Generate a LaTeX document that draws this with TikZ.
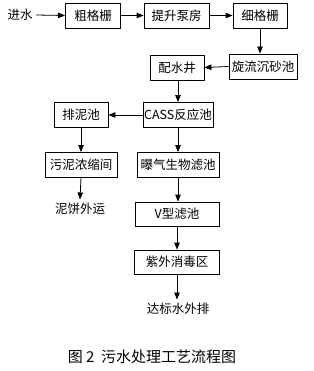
\documentclass[tikz,border=0pt]{standalone}
\usepackage{fontspec}
\newfontfamily\cjk{Noto Sans CJK SC}
\usepackage{tikz}
\usetikzlibrary{arrows.meta}

\begin{document}
\begin{tikzpicture}[
    x=1pt, y=-1pt,
    font=\cjk\fontsize{12.5}{14}\selectfont,
    >={Triangle[length=7pt,width=5.5pt]}, line width=0.8pt,
    box/.style={draw, line width=0.8pt, minimum height=25pt, inner sep=1pt}
]
\useasboundingbox (0,0) rectangle (313,371);

\node (jin) at (20, 15) {进水};
\node[box, minimum width=55pt] (cu)   at (93, 15.5) {粗格栅};
\node[box, minimum width=65pt] (ti)   at (176.5, 15.5) {提升泵房};
\node[box, minimum width=54pt] (xi)   at (260, 15.5) {细格栅};
\node[box, minimum width=68pt] (xuan) at (263, 66.5) {旋流沉砂池};
\node[box, minimum width=54pt] (pei)  at (177, 67.5) {配水井};
\node[box, minimum width=70pt] (cass) at (178, 115) {CASS反应池};
\node[box, minimum width=54pt] (pai)  at (81, 115) {排泥池};
\node[box, minimum width=72pt] (wu)   at (81, 165) {污泥浓缩间};
\node[box, minimum width=82pt] (bao)  at (178, 165) {曝气生物滤池};
\node (ni) at (80, 209) {泥饼外运};
\node[box, minimum width=84pt, minimum height=24pt] (v)  at (177, 214) {V型滤池};
\node[box, minimum width=85pt, minimum height=24pt] (zi) at (177, 262) {紫外消毒区};
\node (da) at (178, 309) {达标水外排};

\node[font=\cjk\fontsize{15}{17}\selectfont] (cap) at (152, 357) {图 2\ \ 污水处理工艺流程图};

\draw[->] (jin.east) -- (cu.west);

\draw[->] (cu.east) -- (ti.west);

\draw[->] (ti.east) -- (xi.west);

\draw[->] (xi.south) -- (xi.south |- xuan.north);

\draw[->] (xuan.west) -- (pei.east);

\draw[->] (cass.north |- pei.south) -- (cass.north);

\draw[->] (cass.west) -- (pai.east);

\draw[->] (pai.south) -- (wu.north);

\draw[->] (wu.south) -- (ni.north);

\draw[->] (cass.south) -- (bao.north);

\draw[->] (bao.south) -- (bao.south |- v.north);

\draw[->] (v.south) -- (zi.north);

\draw[->] (zi.south) -- (zi.south |- da.north);

\end{tikzpicture}
\end{document}
